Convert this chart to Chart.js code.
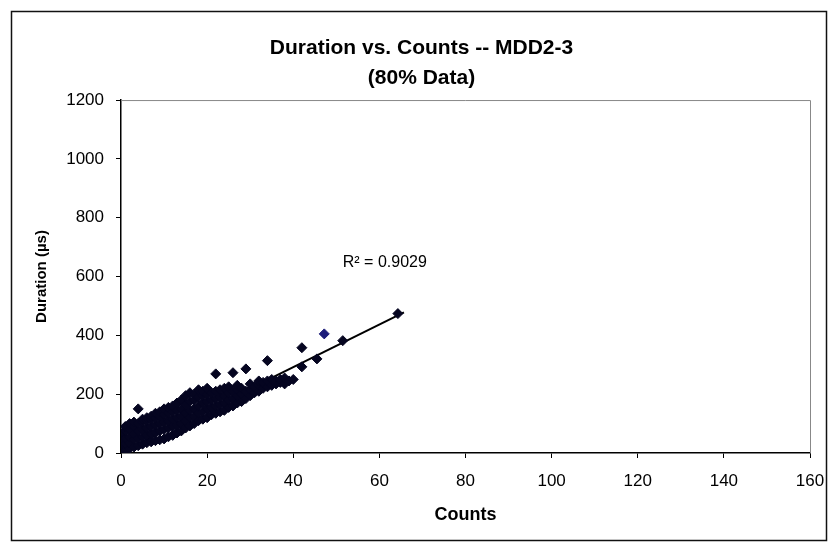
<!DOCTYPE html>
<html>
<head>
<meta charset="utf-8">
<script src="https://cdn.jsdelivr.net/npm/chart.js@4.4.1/dist/chart.umd.min.js"></script>
<style>
  html, body { margin: 0; padding: 0; background: #fff; }
  #wrap { width: 828px; height: 543px; }
</style>
</head>
<body>
<div id="wrap"><canvas id="durationChart" width="828" height="543"></canvas></div>
<script>
// counts (x) and the durations (µs) read at each count
const counts = [0, 0.5, 1, 2, 3, 4, 5, 6, 7, 8, 9, 10, 11, 12, 13, 14, 15, 16, 17, 18, 19, 20,
  21, 22, 23, 24, 25, 26, 27, 28, 29, 30, 31, 32, 33, 34, 35, 36, 37, 38, 39, 40,
  42, 45.5, 47.2, 51.5, 64.3];
const durations = [
  [5, 20, 35, 50, 65], [10, 40, 70], [10, 30, 50, 75, 90], [15, 35, 55, 80, 100],
  [20, 45, 65, 90, 105], [25, 50, 75, 100, 150], [30, 55, 80, 105, 115], [35, 60, 85, 110, 120],
  [38, 65, 90, 115, 125], [42, 70, 95, 120, 135], [45, 75, 100, 125, 140], [48, 80, 105, 130, 150],
  [55, 85, 110, 135, 155], [60, 90, 115, 140, 160], [68, 95, 120, 145, 170], [75, 100, 125, 150, 180],
  [85, 110, 135, 165, 195], [92, 120, 145, 175, 205], [100, 125, 150, 180, 200], [110, 135, 160, 190, 215],
  [115, 140, 170, 195, 210], [120, 150, 175, 200, 220], [130, 155, 180, 205], [135, 160, 185, 210, 269],
  [140, 165, 190, 215], [145, 170, 195, 220], [155, 180, 205, 225], [160, 185, 210, 273],
  [170, 195, 215, 230], [175, 200, 220], [185, 210, 286], [195, 215, 235],
  [205, 225], [210, 230, 245], [220, 240], [225, 245, 314], [230, 250], [235, 245],
  [240, 250], [235, 255], [245], [250],
  [293, 358], [320], [405], [382], [474]
];
// highlighted (blue) point
const blueCount = 47.2;

const trendX = [0, 65.7];
const trendY = [2, 478];

const r2Text = "R\u00B2 = 0.9029";
const r2At = { x: 51.5, y: 648 };

const xTicks = { min: 0, max: 160, step: 20 };
const yTicks = { min: 0, max: 1200, step: 200 };

const points = [];
counts.forEach((c, i) => durations[i].forEach((d) => points.push({ x: c, y: d })));
const pointColors = points.map((p) => (p.x === blueCount ? "#1c1c7a" : "#050520"));

const FONT = "'Liberation Sans', Arial, sans-serif";

const framePlugin = {
  id: "frame",
  beforeDraw(chart) {
    const c = chart.ctx;
    c.save();
    c.fillStyle = "#fff";
    c.fillRect(0, 0, chart.width, chart.height);
    c.restore();
  },
  afterDraw(chart) {
    const c = chart.ctx;
    const a = chart.chartArea;
    c.save();
    // outer chart border
    c.strokeStyle = "#111";
    c.lineWidth = 1.5;
    c.strokeRect(11.5, 11.5, 815, 529);
    // plot area border (top/right)
    c.strokeStyle = "#888";
    c.lineWidth = 1;
    c.beginPath();
    c.moveTo(a.left, a.top + 0.5);
    c.lineTo(a.right + 0.5, a.top + 0.5);
    c.lineTo(a.right + 0.5, a.bottom);
    c.stroke();
    // R² label
    const xs = chart.scales.x, ys = chart.scales.y;
    c.fillStyle = "#000";
    c.font = "16px " + FONT;
    c.textAlign = "left";
    c.textBaseline = "middle";
    c.fillText(r2Text, xs.getPixelForValue(r2At.x), ys.getPixelForValue(r2At.y));
    c.restore();
  },
};

new Chart(document.getElementById("durationChart").getContext("2d"), {
  type: "scatter",
  data: {
    datasets: [
      {
        label: "Duration",
        data: points,
        pointStyle: "rectRot",
        pointRadius: 5,
        backgroundColor: pointColors,
        borderColor: pointColors,
        borderWidth: 1,
      },
      {
        label: "Trend",
        type: "line",
        data: trendX.map((x, i) => ({ x: x, y: trendY[i] })),
        borderColor: "#000",
        borderWidth: 2,
        pointRadius: 0,
        fill: false,
      },
    ],
  },
  options: {
    responsive: false,
    animation: false,
    layout: { padding: { left: 33, right: 18, top: 11, bottom: 17 } },
    plugins: {
      legend: { display: false },
      tooltip: { enabled: false },
      title: {
        display: true,
        text: ["Duration vs. Counts -- MDD2-3", "(80% Data)"],
        color: "#000",
        font: { family: FONT, size: 21, weight: "bold", lineHeight: 1.43 },
        padding: { top: 22, bottom: 7 },
      },
    },
    scales: {
      x: {
        type: "linear",
        min: xTicks.min,
        max: xTicks.max,
        border: { color: "#000", width: 1.5 },
        grid: { drawOnChartArea: false, drawTicks: true, tickLength: 5, color: "#000" },
        ticks: {
          stepSize: xTicks.step,
          color: "#000",
          font: { family: FONT, size: 17 },
          padding: 13,
          callback: (v) => String(v),
        },
        title: {
          display: true,
          text: "Counts",
          color: "#000",
          font: { family: FONT, size: 18, weight: "bold" },
          padding: { top: 0, bottom: 0 },
        },
        afterFit(scale) { scale.paddingRight = 0; },
      },
      y: {
        type: "linear",
        min: yTicks.min,
        max: yTicks.max,
        border: { color: "#000", width: 1.5 },
        grid: { drawOnChartArea: false, drawTicks: true, tickLength: 5, color: "#000" },
        ticks: {
          stepSize: yTicks.step,
          color: "#000",
          font: { family: FONT, size: 17 },
          padding: 12,
          callback: (v) => String(v),
        },
        title: {
          display: true,
          text: "Duration (\u00B5s)",
          color: "#000",
          font: { family: FONT, size: 15, weight: "bold" },
          padding: { top: 0, bottom: 10 },
        },
        afterFit(scale) { scale.width = 88; },
      },
    },
  },
  plugins: [framePlugin],
});
</script>
</body>
</html>
